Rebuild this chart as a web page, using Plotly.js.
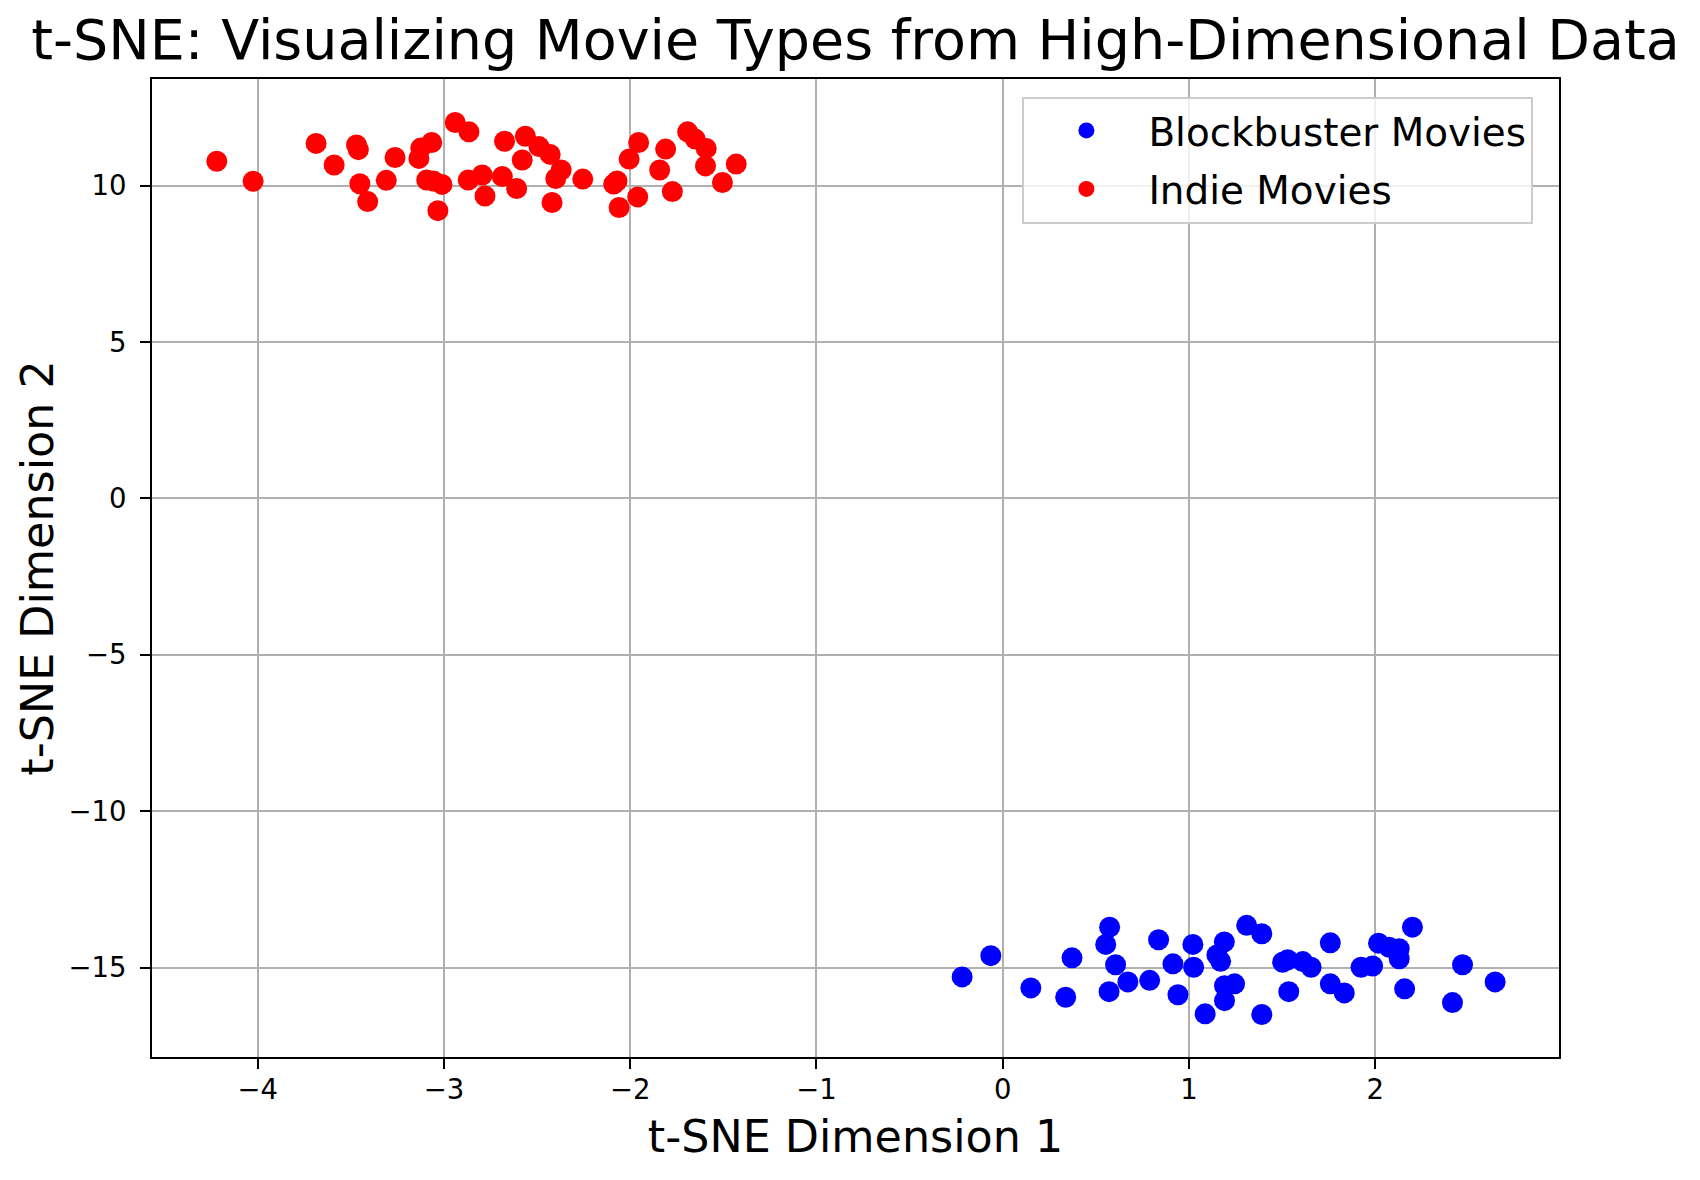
<!DOCTYPE html>
<html>
<head>
<meta charset="utf-8">
<script src="https://cdn.plot.ly/plotly-3.0.1.min.js"></script>
<style>html,body{margin:0;padding:0;background:#fff;}#chart{width:1700px;height:1180px;}</style>
</head>
<body>
<div id="chart"></div>
<script>
const seriesNames = ["Blockbuster Movies", "Indie Movies"];

const blockbusterX = [-0.218, -0.064, 0.151, 0.338, 0.372, 0.574, 0.553, 0.606, 0.571, 0.672, 0.789, 0.837, 0.914, 0.941, 1.021, 1.025, 1.087, 1.15, 1.19, 1.17, 1.191, 1.245, 1.191, 1.31, 1.391, 1.391, 1.503, 1.53, 1.536, 1.611, 1.656, 1.759, 1.759, 1.834, 1.924, 1.986, 2.018, 2.075, 2.129, 2.129, 2.2, 2.158, 2.415, 2.469, 2.644];
const blockbusterY = [-15.30, -14.62, -15.65, -15.95, -14.69, -13.71, -14.26, -14.91, -15.77, -15.46, -15.41, -14.11, -14.88, -15.87, -14.26, -14.99, -16.48, -14.6, -14.18, -14.8, -15.58, -15.52, -16.06, -13.65, -13.92, -16.5, -14.83, -14.75, -15.77, -14.81, -14.99, -14.21, -15.52, -15.81, -14.99, -14.95, -14.22, -14.35, -14.40, -14.72, -13.71, -15.68, -16.12, -14.91, -15.46];

const indieX = [-4.22, -4.025, -3.687, -3.59, -3.47, -3.46, -3.452, -3.41, -3.31, -3.263, -3.125, -3.135, -3.066, -3.093, -3.057, -3.011, -3.033, -2.94, -2.866, -2.87, -2.675, -2.563, -2.49, -2.43, -2.58, -2.795, -2.687, -2.78, -2.61, -2.371, -2.40, -2.42, -2.255, -2.089, -2.071, -2.06, -2.006, -1.955, -1.96, -1.81, -1.842, -1.774, -1.692, -1.651, -1.592, -1.596, -1.505, -1.431];
const indieY = [10.78, 10.14, 11.35, 10.66, 11.3, 11.15, 10.06, 9.49, 10.17, 10.90, 11.2, 10.87, 11.38, 10.18, 10.15, 10.04, 9.2, 12.02, 11.72, 10.18, 11.42, 11.58, 11.25, 11.0, 10.82, 10.34, 10.29, 9.67, 9.91, 10.5, 10.23, 9.46, 10.21, 10.05, 10.15, 9.3, 10.85, 11.38, 9.64, 11.17, 10.5, 9.81, 11.72, 11.49, 11.19, 10.63, 10.1, 10.69];

const xTicks = [-4, -3, -2, -1, 0, 1, 2];
const yTicks = [-15, -10, -5, 0, 5, 10];

const titleText = "t-SNE: Visualizing Movie Types from High-Dimensional Data";
const xTitle = "t-SNE Dimension 1";
const yTitle = "t-SNE Dimension 2";

const FONT = "DejaVu Sans, Verdana, sans-serif";

const traces = [
  {x: blockbusterX, y: blockbusterY, name: seriesNames[0], legendgroup: "g1", type: "scatter", mode: "markers",
   marker: {color: "#0000ff", size: 21, line: {width: 0}}},
  {x: indieX, y: indieY, name: seriesNames[1], legendgroup: "g2", type: "scatter", mode: "markers",
   marker: {color: "#ff0000", size: 21, line: {width: 0}}}
];

const axisCommon = {
  showline: true, linecolor: "#000", linewidth: 2, mirror: true,
  showgrid: true, gridcolor: "#b0b0b0", gridwidth: 2,
  zeroline: false, ticks: "outside", ticklen: 10, tickwidth: 2, tickcolor: "#000",
  tickfont: {family: FONT, size: 27.5, color: "#000"}, automargin: false
};

const layout = {
  width: 1700, height: 1180,
  paper_bgcolor: "#fff", plot_bgcolor: "#fff",
  margin: {l: 152, r: 141, t: 79, b: 123},
  font: {family: FONT, color: "#000"},
  title: {text: titleText, font: {family: FONT, size: 55.5, color: "#000"},
          x: 0.5, xref: "paper", xanchor: "center", y: 1 - 40/1180, yref: "container", yanchor: "middle"},
  xaxis: Object.assign({}, axisCommon, {
    range: [-4.568, 2.987], tickvals: xTicks, ticklabelstandoff: -3,
    title: {text: xTitle, font: {family: FONT, size: 44.4, color: "#000"}, standoff: 17}
  }),
  yaxis: Object.assign({}, axisCommon, {
    range: [-17.86, 13.41], tickvals: yTicks, ticklabelstandoff: 8,
    title: {text: yTitle, font: {family: FONT, size: 44.4, color: "#000"}, standoff: 1}
  }),
  showlegend: true,
  legend: {
    x: 0.9818, xanchor: "right", y: 0.982, yanchor: "top",
    bgcolor: "rgba(255,255,255,0.8)", bordercolor: "#cccccc", borderwidth: 2,
    font: {family: FONT, size: 38.9, color: "#000"}, itemwidth: 114, itemsizing: "trace",
    traceorder: "grouped", tracegroupgap: 5
  }
};

Plotly.newPlot("chart", traces, layout, {displayModeBar: false, staticPlot: true});
</script>
</body>
</html>
